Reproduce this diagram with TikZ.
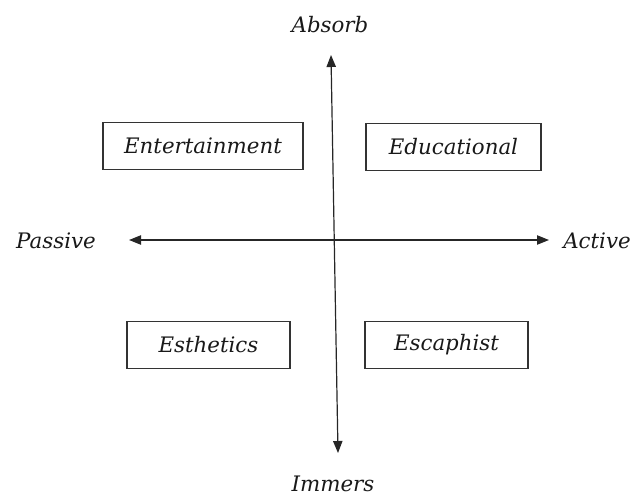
\documentclass[tikz,border=0pt]{standalone}
\usepackage{fontspec}
\setmainfont{DejaVu Serif}
\usetikzlibrary{arrows.meta}
\begin{document}
\begin{tikzpicture}[x=0.75pt,y=-0.75pt,
  lbl/.style={font=\fontsize{16}{19}\selectfont\itshape, text=black!90, inner sep=0pt},
  quad/.style={lbl, draw=black!80, line width=1.1pt, fill=white, minimum height=35.5pt},
  axis/.style={line width=0.9pt, draw=black!85, {Triangle[length=9pt,width=7pt]}-{Triangle[length=9pt,width=7pt]}}]
\useasboundingbox (0,0) rectangle (633,497);
\coordinate (top) at (331,55);
\coordinate (bot) at (338,453);
\coordinate (lft) at (129,240);
\coordinate (rgt) at (549,240);
\draw[axis] (top) -- (bot);
\draw[axis] (lft) -- (rgt);
\node[lbl] (absorb) at (330,25) {Absorb};
\node[lbl] (immers) at (333,484) {Immers};
\node[lbl] (passive) at (56,241) {Passive};
\node[lbl] (active) at (597,241) {Active};
\node[quad, minimum width=150pt] (ent) at (203,146) {Entertainment};
\node[quad, minimum width=131pt] (edu) at (453.5,147) {Educational};
\node[quad, minimum width=122pt] (est) at (208.5,345) {Esthetics};
\node[quad, minimum width=122pt] (esc) at (446.5,345) {Escaphist};
\end{tikzpicture}
\end{document}
